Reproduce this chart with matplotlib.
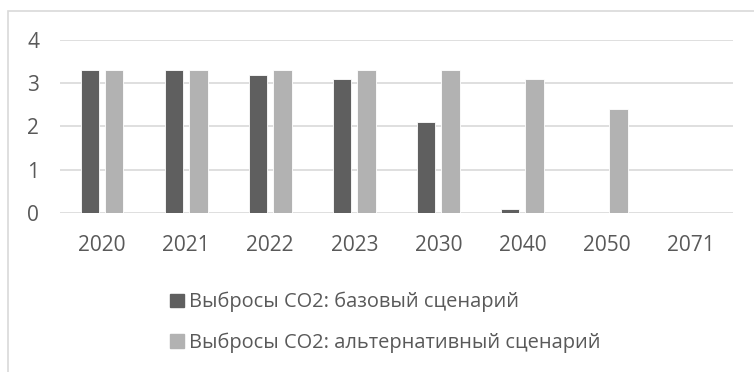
import numpy as np
import matplotlib.pyplot as plt
from matplotlib.patches import Rectangle, Patch

years = ['2020', '2021', '2022', '2023', '2030', '2040', '2050', '2071']
base = [3.3, 3.3, 3.2, 3.1, 2.1, 0.1, 0.0, 0.0]
alt = [3.3, 3.3, 3.3, 3.3, 3.3, 3.1, 2.4, 0.0]
labels = ['Выбросы CO2: базовый сценарий', 'Выбросы CO2: альтернативный сценарий']

dark = '#5f5f5f'
light = '#b2b2b2'
text_col = '#595959'
grid_col = '#d9d9d9'

plt.rcParams['font.family'] = ['Open Sans', 'DejaVu Sans']

fig = plt.figure(figsize=(7.54, 3.72), dpi=100)
ax = fig.add_axes([0.0796, 0.4274, 0.892, 0.4651])

# chart frame (left and top edges only visible)
fig.patches.append(Rectangle((8 / 754, -0.1), 1.2, 1 - 11 / 372 + 0.1, transform=fig.transFigure,
                             fill=False, edgecolor=grid_col, linewidth=1.2))

x = np.arange(len(years))
w = 0.22
ax.bar(x - 0.145, base, w, color=dark, edgecolor='white', linewidth=0.6, zorder=3)
ax.bar(x + 0.145, alt, w, color=light, edgecolor='white', linewidth=0.6, zorder=3)

ax.set_xlim(-0.5, len(years) - 0.5)
ax.set_ylim(0, 4)
ax.set_yticks([0, 1, 2, 3, 4])
ax.set_xticks(x)
ax.set_xticklabels(years)
ax.grid(axis='y', color=grid_col, linewidth=1.2, zorder=0)
for s in ax.spines.values():
    s.set_visible(False)
ax.tick_params(length=0, labelsize=15, labelcolor=text_col)
ax.tick_params(axis='y', pad=15)
ax.tick_params(axis='x', pad=16)

handles = [Patch(color=dark), Patch(color=light)]
leg = fig.legend(handles, labels, loc='upper left', bbox_to_anchor=(160 / 754, 1 - 282 / 372),
                 frameon=False, fontsize=14.4, labelcolor=text_col, handlelength=0.68, handleheight=0.68,
                 handletextpad=0.25, labelspacing=1.0, borderpad=0)

fig.savefig('out.png', dpi=100)
